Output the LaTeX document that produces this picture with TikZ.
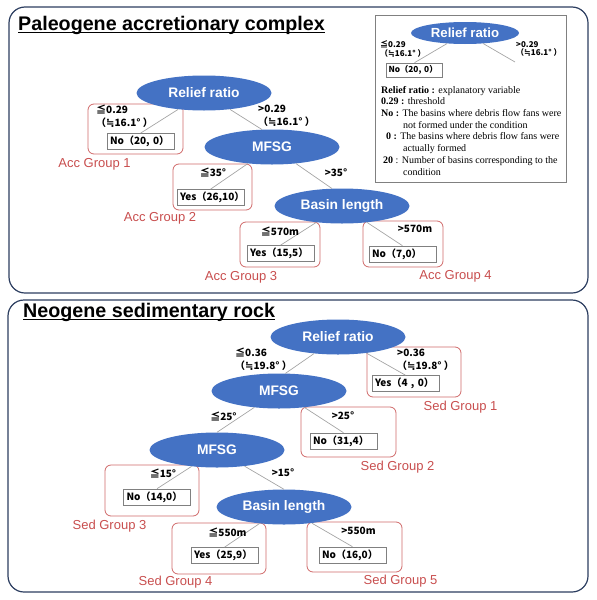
\documentclass[tikz,border=0pt]{standalone}
\usepackage{fontspec}
\setmainfont{Liberation Sans}
\newfontfamily\jpfont{Noto Sans CJK JP}
\newfontfamily\symfont{DejaVu Sans}
\newfontfamily\legfont{Liberation Serif}
\newcommand{\approxsym}{{\symfont ≒}}
\usetikzlibrary{shapes.geometric}
\definecolor{splitblue}{RGB}{68,114,196}
\definecolor{grpred}{RGB}{200,78,78}
\definecolor{panelblue}{RGB}{44,62,96}
\definecolor{edgegray}{RGB}{165,165,165}
\definecolor{boxgray}{RGB}{128,128,128}
\begin{document}
\begin{tikzpicture}[x=1pt,y=-1pt,
  split/.style={ellipse,fill=splitblue,text=white,font=\fontsize{13.8}{16}\selectfont\bfseries,minimum width=135pt,minimum height=35pt,inner sep=0pt},
  grpbox/.style={draw=grpred!85,rounded corners=6pt,line width=0.8pt,minimum width=95pt,minimum height=50pt},
  res/.style={draw=boxgray,fill=white,line width=0.6pt,font=\jpfont\fontsize{10}{12}\selectfont\bfseries,text width=61pt,align=left,inner xsep=3pt,inner ysep=0pt,minimum height=16pt},
  cond/.style={font=\jpfont\fontsize{10}{13}\selectfont\bfseries,align=left,inner sep=0pt},
  grp/.style={text=grpred,font=\fontsize{13}{15}\selectfont,inner sep=0pt},
  edge/.style={draw=edgegray,line width=0.7pt},
  panel/.style={draw=panelblue,line width=1.2pt,rounded corners=16pt},
  title/.style={font=\fontsize{19.7}{22}\selectfont\bfseries,inner sep=0pt,anchor=base west}]
\useasboundingbox (0,0) rectangle (597,600);
\draw[panel] (9,7) rectangle (588,293);
\draw[panel] (8,300) rectangle (588,592);
\node[title] (t1) at (18,30) {Paleogene accretionary complex};
\draw[line width=1.3pt] ([yshift=-2.6pt]t1.base west) -- ([yshift=-2.6pt]t1.base east);
\node[title] (t2) at (23,317) {Neogene sedimentary rock};
\draw[line width=1.3pt] ([yshift=-2.6pt]t2.base west) -- ([yshift=-2.6pt]t2.base east);

\draw[draw=boxgray,line width=0.7pt] (375,15) rectangle (566,182);
\node[split,minimum width=108pt,minimum height=22pt,font=\fontsize{13.2}{15}\selectfont\bfseries] (rr0) at (465,33) {Relief ratio};
\node[res,font=\jpfont\fontsize{8.3}{10}\selectfont\bfseries,text width=52pt,inner xsep=2pt,minimum height=14pt] (r0) at (414.5,70) {No（20, 0）};
\coordinate (e0) at (515,62);
\draw[edge] (rr0) -- (r0.north);
\draw[edge] (rr0) -- (e0);
\node[cond,anchor=west,font=\jpfont\fontsize{8}{8.5}\selectfont\bfseries] (c0a) at (380,49) {≦0.29\\（\approxsym16.1° ）};
\node[cond,anchor=west,font=\jpfont\fontsize{8}{8.5}\selectfont\bfseries] (c0b) at (516,49) {>0.29\\（\approxsym16.1° ）};
\node[anchor=base west,align=left,inner sep=0pt,font=\legfont\fontsize{10}{11.7}\selectfont] (leg) at (381,175) {\textbf{Relief ratio :} explanatory variable\\
\textbf{0.29 :} threshold\\
\textbf{No :} The basins where debris flow fans were\\
\hspace*{22pt}not formed under the condition\\
\hspace*{5pt}\textbf{0 :} The basins where debris flow fans were\\
\hspace*{22pt}actually formed\\
\hspace*{2pt}\textbf{20} : Number of basins corresponding to the\\
\hspace*{22pt}condition};

\node[grpbox] (g1) at (135.5,129) {};
\node[grpbox,minimum width=79pt,minimum height=46pt] (g2) at (212.5,187) {};
\node[grpbox,minimum width=80pt,minimum height=45pt] (g3) at (280,244.5) {};
\node[grpbox,minimum width=80pt,minimum height=46pt] (g4) at (403,244) {};
\node[res] (r1) at (140.5,141.5) {No（20, 0）};
\node[res] (r2) at (210.5,197.5) {Yes（26,10）};
\node[res] (r3) at (280.5,253.5) {Yes（15,5）};
\node[res] (r4) at (402.5,254) {No（7,0）};
\node[split] (rr1) at (204,93) {Relief ratio};
\node[split] (mf1) at (272,147) {MFSG};
\node[split] (bl1) at (342,206) {Basin length};
\draw[edge] (rr1) -- (r1.north);
\draw[edge] (rr1) -- (mf1.120);
\draw[edge] (mf1) -- (r2.north);
\draw[edge] (mf1) -- (bl1.120);
\draw[edge] (bl1) -- (r3.north);
\draw[edge] (bl1) -- (r4.north);
\node[cond,anchor=west] (c1) at (96,116.5) {≦0.29\\（\approxsym16.1° ）};
\node[cond,anchor=west] (c2) at (258,115.5) {>0.29\\（\approxsym16.1° ）};
\node[cond] (c3) at (213,172) {≦35°};
\node[cond] (c4) at (336,173) {>35°};
\node[cond] (c5) at (280,231) {≦570m};
\node[cond] (c6) at (415,229) {>570m};
\node[grp] (l1) at (94.5,164) {Acc Group 1};
\node[grp] (l2) at (160,218) {Acc Group 2};
\node[grp] (l3) at (241,277) {Acc Group 3};
\node[grp] (l4) at (455.5,276) {Acc Group 4};

\node[grpbox,minimum width=94pt] (g5) at (414,372) {};
\node[grpbox] (g6) at (348.5,432) {};
\node[grpbox,minimum width=94pt,minimum height=51pt] (g7) at (152,490.5) {};
\node[grpbox,minimum width=94pt,minimum height=51pt] (g8) at (219,548.5) {};
\node[grpbox] (g9) at (354.5,547) {};
\node[res] (r5) at (405.5,383.5) {Yes（4 , 0）};
\node[res] (r6) at (343.5,441) {No（31,4）};
\node[res] (r7) at (157,497) {No（14,0）};
\node[res] (r8) at (224.5,555.5) {Yes（25,9）};
\node[res] (r9) at (352.5,555) {No（16,0）};
\node[split] (rr2) at (338,337) {Relief ratio};
\node[split] (mf2) at (279,391) {MFSG};
\node[split] (mf3) at (217,450) {MFSG};
\node[split] (bl2) at (284,507) {Basin length};
\draw[edge] (rr2) -- (r5.north);
\draw[edge] (rr2) -- (mf2.70);
\draw[edge] (mf2) -- (r6.north);
\draw[edge] (mf2) -- (mf3.north);
\draw[edge] (mf3) -- (r7.north);
\draw[edge] (mf3) -- (bl2.north);
\draw[edge] (bl2) -- (r8.north);
\draw[edge] (bl2) -- (r9.north);
\node[cond,anchor=west] (c7) at (235,359) {≦0.36\\（\approxsym19.8° ）};
\node[cond,anchor=west] (c8) at (397,360) {>0.36\\（\approxsym19.8° ）};
\node[cond] (c9) at (223.5,416) {≦25°};
\node[cond] (c10) at (343,416) {>25°};
\node[cond] (c11) at (163,473) {≦15°};
\node[cond] (c12) at (283,473) {>15°};
\node[cond] (c13) at (227.5,532) {≦550m};
\node[cond] (c14) at (358.5,531) {>550m};
\node[grp] (l5) at (460.5,407) {Sed Group 1};
\node[grp] (l6) at (397.5,467) {Sed Group 2};
\node[grp] (l7) at (109.5,526) {Sed Group 3};
\node[grp] (l8) at (175.5,582) {Sed Group 4};
\node[grp] (l9) at (400.5,581) {Sed Group 5};
\end{tikzpicture}
\end{document}
